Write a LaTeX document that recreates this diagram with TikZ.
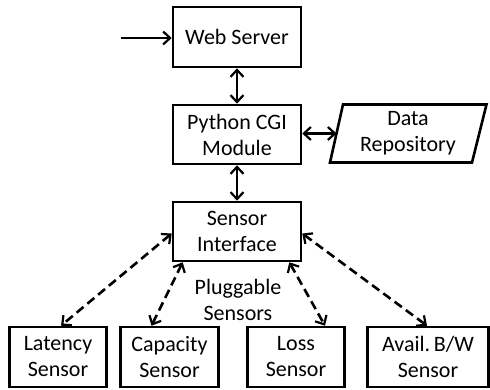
\documentclass[tikz,border=0pt]{standalone}
\usepackage{fontspec}
\setmainfont{Carlito}
\usetikzlibrary{arrows.meta,calc}
\begin{document}
\begin{tikzpicture}[x=1pt,y=-1pt,
  box/.style={draw,line width=2.6pt,rectangle,align=center,inner sep=0pt,
    font=\fontsize{22}{26}\selectfont},
  wide/.style={box,minimum width=128pt,minimum height=59pt},
  sensorbox/.style={box,minimum width=97.5pt,minimum height=60pt},
  tip/.tip={Straight Barb[length=7pt,width=13pt,line width=2.2pt]},
  link/.style={line width=2.6pt,tip-tip},
  plug/.style={link,dash pattern=on 9pt off 5pt},
  lbl/.style={align=center,inner sep=0pt,font=\fontsize{22}{26}\selectfont}]
\useasboundingbox (0,0) rectangle (490,390);

% main pipeline
\node[wide,minimum height=60pt] (web) at (237,37) {Web Server};
\node[wide] (cgi) at (237,134.5) {Python CGI\\Module};
\node[wide] (si) at (237,231.5) {Sensor\\Interface};

% data repository (parallelogram)
\coordinate (repoW) at (336.5,133.5);
\draw[line width=2.6pt,line join=miter] (343,104.5) -- (486.5,104.5) -- (472,162.5) -- (330,162.5) -- cycle;
\node[lbl] (repo) at (408,133.5) {Data\\Repository};

% individual sensors
\node[sensorbox] (lat) at (58,357) {Latency\\Sensor};
\node[sensorbox] (cap) at (169.5,357) {Capacity\\Sensor};
\node[sensorbox] (loss) at (296,357) {Loss\\Sensor};
\node[box,minimum width=121.5pt,minimum height=60pt] (avail) at (428,357) {Avail.\,B/W\\Sensor};

\node[lbl] (plug) at (238,300) {Pluggable\\Sensors};

% solid connectors
\coordinate (in) at (121,38);
\draw[line width=2.6pt,-tip] (in) -- (web.west |- in);
\draw[link] (web) -- (cgi);
\draw[link] (cgi) -- (si);
\draw[link] (cgi.east |- repoW) -- (repoW);

% dashed connectors to the sensors
\draw[plug] ($(si.west)+(0,2)$) -- ($(lat.north)+(3,0)$);
\draw[plug] ($(si.south west)+(11,0)$) -- ($(cap.north)+(-18,0)$);
\draw[plug] ($(si.south east)+(-13,0)$) -- ($(loss.north)+(29,0)$);
\draw[plug] ($(si.east)+(0,2)$) -- ($(avail.north)+(-1,0)$);
\end{tikzpicture}
\end{document}
